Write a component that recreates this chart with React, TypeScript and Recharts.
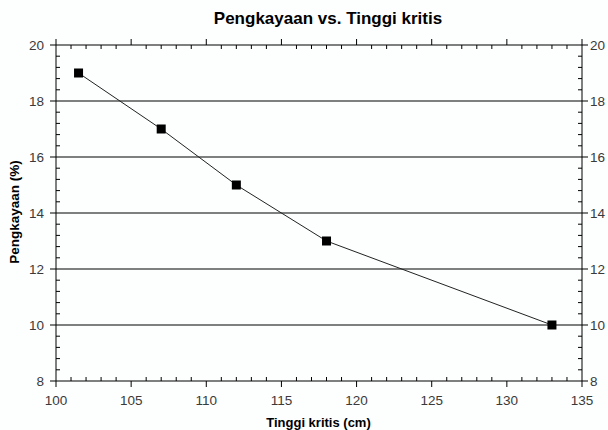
import React from "react";
import {
  LineChart,
  Line,
  XAxis,
  YAxis,
  ReferenceLine,
} from "recharts";

// Tinggi kritis (cm) vs Pengkayaan (%)
const tinggiKritis = [101.5, 107, 112, 118, 133];
const pengkayaan = [19, 17, 15, 13, 10];

const xMajorTicks = [100, 105, 110, 115, 120, 125, 130, 135];
const xMinorStep = 1;
const yMajorTicks = [8, 10, 12, 14, 16, 18, 20];
const yMinorStep = 0.4;
const gridValues = [10, 12, 14, 16, 18];

const data = tinggiKritis.map((x, i) => ({ x, y: pengkayaan[i] }));

const buildTicks = (from: number, to: number, step: number) => {
  const n = Math.round((to - from) / step);
  return Array.from({ length: n + 1 }, (_, i) => +(from + i * step).toFixed(2));
};
const xTicks = buildTicks(xMajorTicks[0], xMajorTicks[xMajorTicks.length - 1], xMinorStep);
const yTicks = buildTicks(yMajorTicks[0], yMajorTicks[yMajorTicks.length - 1], yMinorStep);

const isMajor = (v: number, majors: number[]) => majors.some((m) => Math.abs(m - v) < 1e-6);

const FONT = "'Liberation Sans', Arial, sans-serif";
const LABEL_COLOR = "#3a3a3a";
const MAJOR = 6;
const MINOR = 4;

const XTick = (props: any) => {
  const { x, y, payload, side } = props;
  const v = payload.value;
  const major = isMajor(v, xMajorTicks);
  if (side === "top") {
    return major ? (
      <line x1={x} x2={x} y1={y} y2={y - MAJOR} stroke="#000" />
    ) : (
      <line x1={x} x2={x} y1={y} y2={y + MINOR} stroke="#000" />
    );
  }
  if (!major) return <line x1={x} x2={x} y1={y} y2={y - MINOR} stroke="#000" />;
  return (
    <g>
      <line x1={x} x2={x} y1={y} y2={y + MAJOR} stroke="#000" />
      <text x={x} y={y + 24} textAnchor="middle" fontSize={13.5} fontFamily={FONT} fill={LABEL_COLOR}>
        {v}
      </text>
    </g>
  );
};

const YTick = (props: any) => {
  const { x, y, payload, side } = props;
  const v = payload.value;
  const major = isMajor(v, yMajorTicks);
  const dir = side === "right" ? 1 : -1;
  if (!major) return <line x1={x} x2={x - dir * MINOR} y1={y} y2={y} stroke="#000" />;
  return (
    <g>
      <line x1={x} x2={x + dir * MAJOR} y1={y} y2={y} stroke="#000" />
      <text
        x={x + dir * (side === "right" ? 8 : 12)}
        y={y + 5}
        textAnchor={side === "right" ? "start" : "end"}
        fontSize={13.5}
        fontFamily={FONT}
        fill={LABEL_COLOR}
      >
        {v}
      </text>
    </g>
  );
};

const SquareDot = (props: any) => {
  const { cx, cy } = props;
  if (cx == null || cy == null) return null;
  return <rect x={cx - 4.5} y={cy - 4.5} width={9} height={9} fill="#000" />;
};

export default function App() {
  return (
    <div
      style={{
        position: "absolute",
        left: 0,
        top: 0,
        width: 608,
        height: 430,
        background: "#fdfefe",
        fontFamily: FONT,
      }}
    >
      <div
        style={{
          position: "absolute",
          left: 0,
          width: 656,
          top: 9,
          textAlign: "center",
          fontWeight: "bold",
          fontSize: 17,
          color: "#000",
        }}
      >
        Pengkayaan vs. Tinggi kritis
      </div>
      <div
        style={{
          position: "absolute",
          left: 0,
          width: 637,
          top: 415,
          textAlign: "center",
          fontWeight: "bold",
          fontSize: 13,
          color: "#000",
        }}
      >
        Tinggi kritis (cm)
      </div>
      <div
        style={{
          position: "absolute",
          left: 14,
          top: 212,
          transform: "translate(-50%, -50%) rotate(-90deg)",
          whiteSpace: "nowrap",
          fontWeight: "bold",
          fontSize: 13.5,
          color: "#000",
        }}
      >
        Pengkayaan (%)
      </div>
      <LineChart
        width={608}
        height={430}
        data={data}
        margin={{ top: 35, right: 4, bottom: 9, left: 16 }}
        style={{ position: "absolute", left: 0, top: 0 }}
      >
        <XAxis
          xAxisId="bottom"
          orientation="bottom"
          type="number"
          dataKey="x"
          domain={[100, 135]}
          ticks={xTicks}
          interval={0}
          height={40}
          tickSize={0}
          tickMargin={0}
          tickLine={false}
          axisLine={{ stroke: "#000" }}
          tick={<XTick side="bottom" />}
        />
        <XAxis
          xAxisId="top"
          orientation="top"
          type="number"
          dataKey="x"
          domain={[100, 135]}
          ticks={xTicks}
          interval={0}
          height={10}
          tickSize={0}
          tickMargin={0}
          tickLine={false}
          axisLine={{ stroke: "#000" }}
          tick={<XTick side="top" />}
        />
        <YAxis
          yAxisId="left"
          orientation="left"
          type="number"
          domain={[8, 20]}
          ticks={yTicks}
          interval={0}
          width={40}
          tickSize={0}
          tickMargin={0}
          tickLine={false}
          axisLine={{ stroke: "#000" }}
          tick={<YTick side="left" />}
        />
        <YAxis
          yAxisId="right"
          orientation="right"
          type="number"
          domain={[8, 20]}
          ticks={yTicks}
          interval={0}
          width={22}
          tickSize={0}
          tickMargin={0}
          tickLine={false}
          axisLine={{ stroke: "#000" }}
          tick={<YTick side="right" />}
        />
        {gridValues.map((g) => (
          <ReferenceLine key={g} y={g} xAxisId="bottom" yAxisId="left" stroke="#000" strokeWidth={1} />
        ))}
        <Line
          xAxisId="bottom"
          yAxisId="left"
          type="linear"
          dataKey="y"
          stroke="#222"
          strokeWidth={1}
          dot={<SquareDot />}
          activeDot={false}
          isAnimationActive={false}
        />
        <Line
          xAxisId="top"
          yAxisId="right"
          type="linear"
          dataKey="y"
          stroke="none"
          dot={false}
          activeDot={false}
          legendType="none"
          isAnimationActive={false}
        />
      </LineChart>
    </div>
  );
}
